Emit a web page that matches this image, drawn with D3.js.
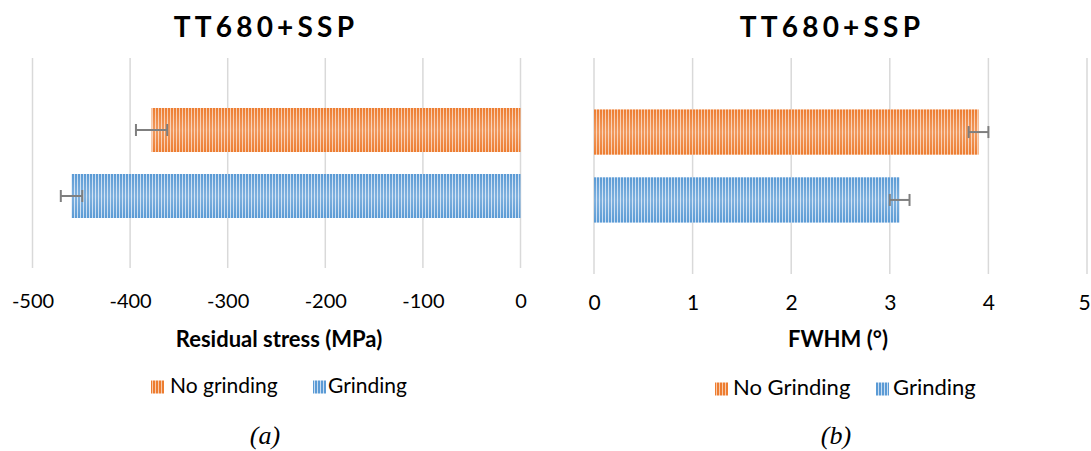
<!DOCTYPE html>
<html>
<head>
<meta charset="utf-8">
<script src="https://cdn.jsdelivr.net/npm/d3@7"></script>
<style>
  html, body { margin: 0; padding: 0; background: #fff; }
  svg { display: block; }
</style>
</head>
<body>
<svg id="chart" width="1091" height="451"></svg>
<script>
// ---- data ----
const categories = ["TT680+SSP"];
const stressSeries = ["No grinding", "Grinding"];
const stressValues = [-378, -460];
const stressErrors = [16, 11];
const stressTicks = [-500, -400, -300, -200, -100, 0];

const fwhmSeries = ["No Grinding", "Grinding"];
const fwhmValues = [3.9, 3.1];
const fwhmErrors = [0.1, 0.1];
const fwhmTicks = [0, 1, 2, 3, 4, 5];

const seriesColors = ["#ED7D31", "#5B9BD5"];
const seriesLight = ["#F8CBAD", "#C9DDF2"];

// ---- setup ----
const svg = d3.select("#chart");
const defs = svg.append("defs");
const FONT = "Lato, 'Open Sans', sans-serif";

seriesColors.forEach((c, i) => {
  const p = defs.append("pattern")
    .attr("id", "pat" + i)
    .attr("patternUnits", "userSpaceOnUse")
    .attr("width", 3).attr("height", 10);
  p.append("rect").attr("width", 3).attr("height", 10).attr("fill", c);
  p.append("rect").attr("x", 2).attr("width", 1).attr("height", 10).attr("fill", seriesLight[i]);
});
const sheen = defs.append("linearGradient").attr("id", "sheen")
  .attr("x1", 0).attr("y1", 0).attr("x2", 0).attr("y2", 1);
sheen.append("stop").attr("offset", "0%").attr("stop-color", "#fff").attr("stop-opacity", 0);
sheen.append("stop").attr("offset", "50%").attr("stop-color", "#fff").attr("stop-opacity", 0.22);
sheen.append("stop").attr("offset", "100%").attr("stop-color", "#fff").attr("stop-opacity", 0);

function panel(cfg) {
  const g = svg.append("g");
  const x = d3.scaleLinear().domain(cfg.domain).range(cfg.xRange);
  const y0 = d3.scaleBand().domain(categories).range(cfg.yRange).paddingOuter(cfg.outerPad).paddingInner(0);
  const y1 = d3.scaleBand().domain(cfg.series).range([0, y0.bandwidth()]).paddingInner(1 / 3).paddingOuter(0);

  // title
  g.append("text")
    .attr("x", cfg.titleX).attr("y", cfg.titleY)
    .attr("text-anchor", "middle")
    .attr("font-family", FONT).attr("font-weight", 700)
    .attr("font-size", 28).attr("letter-spacing", 4.2)
    .attr("fill", "#000")
    .text(categories[0]);

  // gridlines
  g.append("g").selectAll("line").data(cfg.ticks).join("line")
    .attr("x1", d => x(d)).attr("x2", d => x(d))
    .attr("y1", cfg.yRange[0]).attr("y2", cfg.yRange[1])
    .attr("stroke", "#d9d9d9").attr("stroke-width", 1.5);

  // tick labels via axis
  const axis = d3.axisBottom(x).tickValues(cfg.ticks).tickSize(0).tickPadding(0)
    .tickFormat(d => d3.format("d")(d).replace("−", "-"));
  const ax = g.append("g").attr("transform", `translate(0,${cfg.tickY})`).call(axis);
  ax.select(".domain").remove();
  ax.selectAll("text").attr("font-family", FONT).attr("font-size", cfg.tickSize)
    .attr("fill", "#000").attr("dy", 0)
    .attr("dx", (d, i, n) => (cfg.lastTickShift && i === n.length - 1) ? cfg.lastTickShift : 0);

  // axis title
  g.append("text")
    .attr("x", cfg.axisTitleX).attr("y", cfg.axisTitleY)
    .attr("text-anchor", "middle")
    .attr("font-family", FONT).attr("font-weight", 700)
    .attr("font-size", cfg.axisTitleSize).attr("fill", "#000")
    .text(cfg.axisTitle);

  // bars
  const rows = cfg.series.map((s, i) => ({ s, i, v: cfg.values[i], e: cfg.errors[i] }));
  const bg = g.append("g").attr("transform", `translate(0,${y0(categories[0])})`);
  bg.selectAll("rect.bar").data(rows).join("rect").attr("class", "bar")
    .attr("x", d => Math.min(x(0), x(d.v)))
    .attr("width", d => Math.abs(x(d.v) - x(0)))
    .attr("y", d => y1(d.s)).attr("height", y1.bandwidth())
    .attr("fill", d => `url(#pat${d.i})`);
  bg.selectAll("rect.sheen").data(rows).join("rect").attr("class", "sheen")
    .attr("x", d => Math.min(x(0), x(d.v)))
    .attr("width", d => Math.abs(x(d.v) - x(0)))
    .attr("y", d => y1(d.s)).attr("height", y1.bandwidth())
    .attr("fill", "url(#sheen)");

  // error bars
  const eb = bg.selectAll("g.err").data(rows).join("g").attr("class", "err")
    .attr("stroke", "#7f7f7f").attr("stroke-width", 2);
  eb.append("line")
    .attr("x1", d => x(d.v - d.e)).attr("x2", d => x(d.v + d.e))
    .attr("y1", d => y1(d.s) + y1.bandwidth() / 2).attr("y2", d => y1(d.s) + y1.bandwidth() / 2);
  [-1, 1].forEach(sgn => {
    eb.append("line")
      .attr("x1", d => x(d.v + sgn * d.e)).attr("x2", d => x(d.v + sgn * d.e))
      .attr("y1", d => y1(d.s) + y1.bandwidth() / 2 - 6).attr("y2", d => y1(d.s) + y1.bandwidth() / 2 + 6);
  });

  // legend
  const lg = g.append("g");
  cfg.series.forEach((s, i) => {
    const L = cfg.legend[i];
    lg.append("rect").attr("x", L.sx).attr("y", cfg.legendY - 12.5)
      .attr("width", 13).attr("height", 13).attr("fill", `url(#pat${i})`);
    lg.append("text").attr("x", L.tx).attr("y", cfg.legendY)
      .attr("font-family", FONT).attr("font-size", cfg.legendSize).attr("fill", "#000")
      .text(s);
  });

  // caption
  g.append("text")
    .attr("x", cfg.capX).attr("y", 444)
    .attr("text-anchor", "middle")
    .attr("font-family", "'Liberation Serif', 'Times New Roman', serif")
    .attr("font-style", "italic").attr("font-size", 26).attr("fill", "#000")
    .text(cfg.caption);
}

panel({
  domain: [-500, 0], xRange: [32.5, 520.5], yRange: [58, 268], outerPad: 0.4545,
  series: stressSeries, values: stressValues, errors: stressErrors, ticks: stressTicks,
  titleX: 266, titleY: 37, tickY: 308, tickSize: 20,
  axisTitle: "Residual stress (MPa)", axisTitleX: 279, axisTitleY: 347, axisTitleSize: 22,
  legendY: 393, legendSize: 21, legend: [{ sx: 151, tx: 170 }, { sx: 313, tx: 328 }],
  capX: 265, caption: "(a)"
});

panel({
  domain: [0, 5], xRange: [594, 1087], yRange: [58, 274], outerPad: 0.4545,
  series: fwhmSeries, values: fwhmValues, errors: fwhmErrors, ticks: fwhmTicks,
  titleX: 832, titleY: 37, tickY: 310, tickSize: 21, lastTickShift: -3,
  axisTitle: "FWHM (°)", axisTitleX: 838, axisTitleY: 347, axisTitleSize: 22,
  legendY: 395, legendSize: 22, legend: [{ sx: 715, tx: 733 }, { sx: 876, tx: 893 }],
  capX: 836, caption: "(b)"
});
</script>
</body>
</html>
